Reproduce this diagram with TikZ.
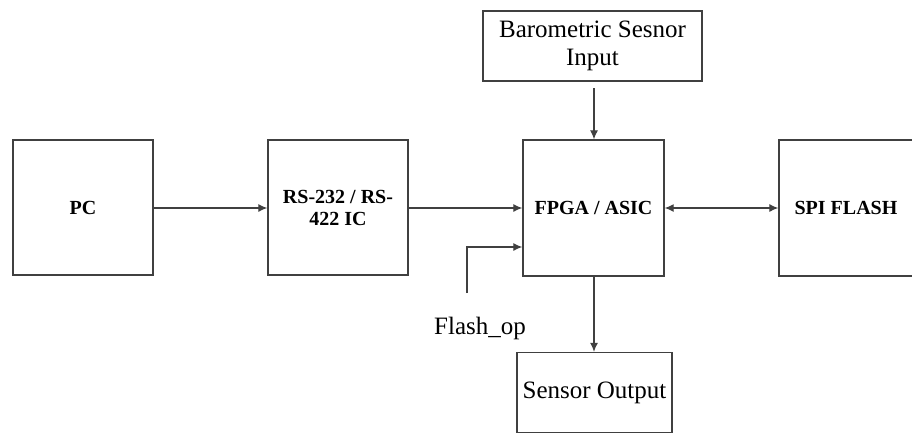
\documentclass[tikz,border=0pt]{standalone}
\usepackage{fontspec}
\setmainfont{Liberation Serif}
\usetikzlibrary{arrows.meta}
\begin{document}
\begin{tikzpicture}[x=1pt,y=-1pt,
  blk/.style={draw=black!75,line width=1.3pt,inner sep=0pt,align=center},
  bl/.style={font=\fontsize{20}{22}\selectfont\bfseries},
  rg/.style={font=\fontsize{25}{28}\selectfont},
  conn/.style={draw=black!75,line width=1.2pt,-{Latex[length=9pt,width=8pt]}},
  bconn/.style={draw=black!75,line width=1.2pt,{Latex[length=9pt,width=8pt]}-{Latex[length=9pt,width=8pt]}}]
\useasboundingbox (0,0) rectangle (912,434);
\node[blk,bl,minimum width=140pt,minimum height=135pt] (pc) at (83,207.5) {PC};
\node[blk,bl,minimum width=140pt,minimum height=135pt] (rs) at (338,207.5) {RS-232 / RS-\\422 IC};
\node[blk,bl,minimum width=141pt,minimum height=136pt] (fpga) at (593.5,208) {FPGA / ASIC};
\node[blk,bl,minimum width=134pt,minimum height=136pt] (spi) at (846,208) {SPI FLASH};
\node[blk,rg,minimum width=219pt,minimum height=70pt] (baro) at (592.5,46) {Barometric Sesnor\\Input};
\node[blk,rg,minimum width=155pt,minimum height=80pt] (sens) at (594.5,392.5) {Sensor Output};
\node[rg,inner sep=0pt] (flab) at (480,328) {Flash\_op};
\coordinate (fs) at (467,293);
\coordinate (bs) at (594,88);
\draw[conn] (pc.east |- 0,208) -- (rs.west |- 0,208);
\draw[conn] (rs.east |- 0,208) -- (fpga.west |- 0,208);
\draw[bconn] (fpga.east |- 0,208) -- (spi.west |- 0,208);
\draw[conn] (bs) -- (bs |- fpga.north);
\draw[conn] (bs |- fpga.south) -- (bs |- sens.north);
\draw[conn] (fs) |- (fpga.west |- 0,247);
\end{tikzpicture}
\end{document}
